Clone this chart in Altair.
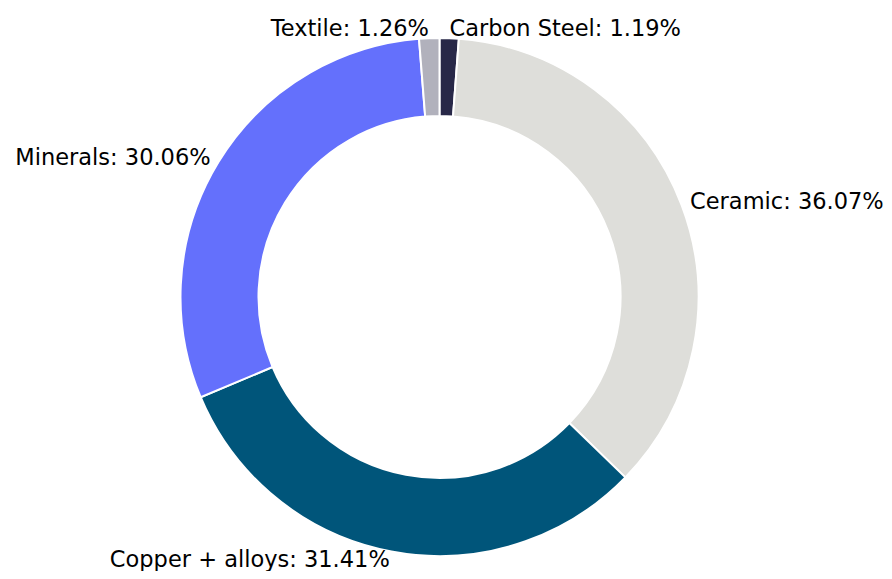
import altair as alt
import pandas as pd

categories = ["Carbon Steel", "Ceramic", "Copper + alloys", "Minerals", "Textile"]
shares = [1.19, 36.07, 31.41, 30.06, 1.26]
colors = ["#282848", "#dededa", "#00557a", "#6470fc", "#b1b1bc"]

df = pd.DataFrame({"material": categories, "share": shares, "order": list(range(len(categories)))})
df["label"] = df["material"] + ": " + df["share"].map("{:.2f}%".format)

CX, CY = 431.5, 289
R_OUT, R_IN, R_TXT = 259, 181, 268

arcs = alt.Chart(df).mark_arc(
    outerRadius=R_OUT, innerRadius=R_IN, stroke="white", strokeWidth=2
).encode(
    theta=alt.Theta("share:Q", stack=True),
    order=alt.Order("order:Q"),
    color=alt.Color("material:N", scale=alt.Scale(domain=categories, range=colors), legend=None),
    x=alt.value(CX),
    y=alt.value(CY),
)

txt_base = alt.Chart(df).transform_joinaggregate(
    total="sum(share)"
).transform_window(
    cum="sum(share)", sort=[alt.SortField("order")], frame=[None, 0]
).transform_calculate(
    mid="(datum.cum - datum.share / 2) / datum.total * 2 * PI"
).transform_calculate(
    side="datum.mid < PI ? 'L' : 'R'"
)

def labels(side, align):
    return txt_base.transform_filter(alt.datum.side == side).mark_text(
        radius=R_TXT, align=align, baseline="middle", fontSize=22.5,
        font="DejaVu Sans", color="black"
    ).encode(
        theta=alt.Theta("mid:Q", scale=None),
        text="label:N",
        x=alt.value(CX),
        y=alt.value(CY),
    )

chart = alt.layer(arcs, labels("L", "left"), labels("R", "right")).properties(
    width=876, height=563, autosize=alt.AutoSizeParams(type="none"), padding=0
).configure_view(stroke=None)

chart.save("out.html", embed_options={"renderer": "svg", "actions": False})
